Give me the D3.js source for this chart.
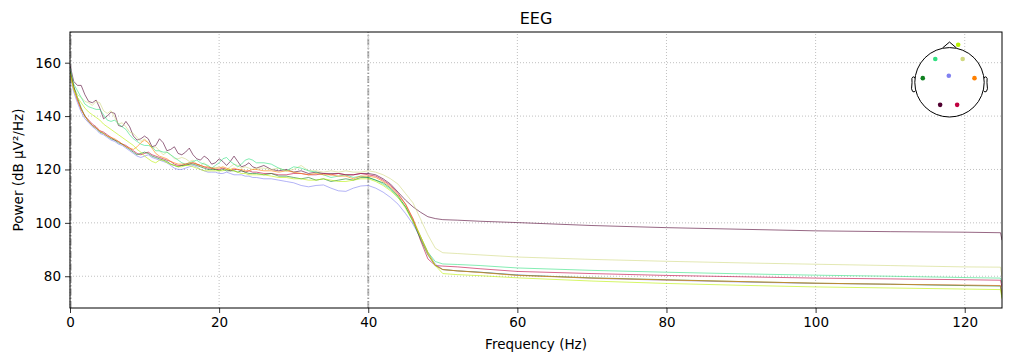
<!DOCTYPE html>
<html>
  <head>
    <meta charset="utf-8">
    <script src="https://d3js.org/d3.v7.min.js"></script>
    <style>
      body { margin: 0; background: #fff; }
      svg { font-family: 'DejaVu Sans', sans-serif; }
    </style>
    <title>EEG PSD</title>
  </head>
  <body>
    <svg></svg>

    <script type="text/javascript">
      // frequency grid (Hz): 0.5 Hz steps to 25, 1 Hz to 50, then sparse
      const freqs = [
        0, 0.5, 1, 1.5, 2, 2.5, 3, 3.5, 4, 4.5,
        5, 5.5, 6, 6.5, 7, 7.5, 8, 8.5, 9, 9.5,
        10, 10.5, 11, 11.5, 12, 12.5, 13, 13.5, 14, 14.5,
        15, 15.5, 16, 16.5, 17, 17.5, 18, 18.5, 19, 19.5,
        20, 20.5, 21, 21.5, 22, 22.5, 23, 23.5, 24, 24.5,
        25,
        26, 27, 28, 29, 30, 31, 32, 33, 34, 35, 36, 37, 38, 39, 40,
        41, 42, 43, 44, 45, 46, 47, 48, 49, 50,
        52, 55, 60, 70, 80, 90, 100, 110, 120, 124.8, 125
      ]

      // PSD per channel, dB µV²/Hz
      const psdMaroon = [
        159, 153, 151.5, 151.5, 148, 145.5, 145, 146, 143, 139,
        140, 141.5, 141, 136.5, 136, 138, 136, 132.5, 131, 131.5,
        132.5, 131.5, 128.5, 129, 131.5, 130, 127, 127.5, 128.5, 126,
        125.5, 126.5, 128, 125.5, 124, 123.5, 125, 124, 122, 122.5,
        124, 123, 121.5, 123, 125, 123, 121, 121.5, 122.5, 121,
        120.5,
        121.5, 120, 119.5, 120, 119, 119.5, 118.5, 119, 118.5, 118.5,
        118.5, 118, 118, 118.5, 118.5, 118, 116.5, 114.5, 111.5, 108.5,
        106, 104, 102.3, 101.6, 101.2,
        101, 100.6, 100.1, 99, 98.2, 97.6, 97, 96.7, 96.5, 96.3, 93.5
      ]
      const psdKhaki = [
        157, 151, 148, 147, 145.5, 145, 144, 145.5, 145, 142,
        141, 142, 139.5, 137, 137.5, 136, 134, 133.5, 132, 130.5,
        131.5, 130, 128, 128.5, 127, 125.5, 126.5, 125.5, 124, 124,
        124.5, 124, 123, 123.5, 122, 121.5, 122.5, 121, 120.5, 120.5,
        121, 120.5, 120, 121, 122, 121.5, 120.5, 121, 120.5, 120,
        120.5,
        120.5, 120, 120.5, 119.5, 120, 121.5, 119.5, 119.5, 119, 119.5,
        119, 119.5, 119, 119, 119.5, 119, 118, 116.5, 114.5, 111,
        107.5, 101.5, 95.5, 90.5, 88.8,
        88.5, 88, 87.2, 86.3, 85.6, 85, 84.5, 84, 83.5, 83.4, 80
      ]
      const psdTeal = [
        158, 152, 149.5, 147, 144.5, 143.5, 143, 142.5, 142.5, 140.5,
        138.5, 138, 138.5, 137, 136, 135, 133, 131.5, 130.5, 129.5,
        129, 129, 128.5, 127, 127, 126.5, 126.5, 125.5, 124.5, 123.5,
        122.5, 122, 122.5, 123, 123.5, 122.5, 122, 121.5, 120.5, 121.5,
        122.5, 124, 124.5, 123, 122, 121, 122, 123.5, 124, 123.5,
        122.5,
        122.5, 122, 120.5, 119.5, 121, 120.5, 119.5, 119, 118, 117,
        117.5, 118, 117, 117.5, 117, 116, 114.5, 112.5, 109.5, 106,
        101, 95, 89, 85.5, 84.6,
        84.4, 84, 83.1, 82.2, 81.5, 80.9, 80.4, 80, 79.5, 79.3, 77.5
      ]
      const psdCrimson = [
        157, 151, 146, 142.5, 140, 138.5, 137, 136, 134.5, 134,
        133, 132, 131, 130.5, 129.5, 129, 128, 127, 126, 125.5,
        126, 126.5, 125.5, 125, 124.5, 124, 123.5, 123, 122, 121.5,
        121.5, 122, 122, 122.5, 122, 121.5, 121, 120.5, 120.5, 120,
        120, 120.5, 120, 119.5, 120, 120, 119.5, 119, 119.5, 119,
        119,
        118.5, 118.5, 118, 118, 118.5, 118.5, 118, 118, 118.5, 118,
        118.5, 118, 118, 118.5, 118, 117.5, 116, 114, 111, 107,
        101.5, 93.5, 86.5, 84, 83.8,
        83.5, 82.8, 81.8, 81, 80.3, 79.8, 79.3, 79, 78.7, 78.5, 76
      ]
      const psdBlue = [
        155, 149, 145, 141.5, 139, 137.5, 136, 135, 133.5, 133,
        132, 131, 130.5, 129.5, 129, 128, 127, 126, 125, 124.5,
        125, 125.5, 124.5, 124, 123.5, 123, 122.5, 121.5, 120.5, 120,
        120, 120.5, 121, 121.5, 121, 120, 119.5, 119, 119, 119,
        118.5, 118.5, 119, 118.5, 118, 118, 118, 117.5, 117.5, 117,
        117,
        116.5, 116.5, 116, 115.5, 115, 114, 113.5, 114, 114.2, 113,
        112, 111.8, 113, 113.8, 114, 113, 111.5, 109.5, 107, 103.5,
        99.5, 94.5, 89, 84.5, 82.5,
        82, 81.5, 80.5, 79.2, 78.5, 77.8, 77.3, 77, 76.6, 76.5, 73
      ]
      const psdDarkGreen = [
        157, 151, 147, 143, 140, 138, 136.5, 135.5, 134, 133.5,
        132.5, 131.5, 131, 130, 129.5, 128.5, 127.5, 126.5, 125.5, 126,
        126.5, 126, 125, 124.5, 124, 123.5, 123, 122, 121.5, 121,
        121.5, 121.5, 122, 122, 121.5, 121, 120.5, 120, 120, 120,
        119.5, 120, 119.5, 119.5, 119.5, 119, 119.5, 119, 118.5, 118.5,
        118.5,
        118, 118.5, 117.5, 117.5, 117, 116.5, 117, 116, 116.5, 115.5,
        116, 116.5, 116, 117, 117, 116, 115, 113, 110, 106,
        100.5, 94, 88, 84, 82.5,
        82, 81.5, 80.4, 79.4, 78.7, 78, 77.4, 77, 76.5, 76.3, 72
      ]
      const psdOrange = [
        156, 150, 146, 142.5, 140, 138, 136.5, 135.5, 134.5, 133.5,
        132.5, 132, 131.5, 130.5, 129.5, 128.5, 128, 127.5, 128.5, 130,
        131, 130, 128, 126, 125, 124.5, 124, 123, 122.5, 122,
        122, 122, 122.5, 122.5, 122, 121.5, 121, 121, 120.5, 120.5,
        120.5, 121, 120.5, 120, 120.5, 120, 120, 119.5, 119.5, 120,
        120,
        119.5, 119.5, 119, 119.5, 119, 118.5, 118, 118.5, 118, 118,
        117.5, 117.5, 116.5, 117.5, 117.5, 117, 115.5, 113.5, 110.5, 107,
        101.5, 95, 88.5, 84, 82.5,
        82, 81.4, 80.3, 79.3, 78.6, 78, 77.4, 77, 76.7, 76.5, 73
      ]
      const psdYellowGreen = [
        156, 150, 147, 145, 143, 141.5, 140.5, 139.5, 138.5, 137,
        136, 135, 134, 133, 132, 131, 130, 129, 127.5, 126.5,
        125, 124, 123, 122.5, 123.5, 123.5, 122.5, 122, 121.5, 121,
        121, 121.5, 121.5, 121, 120.5, 120, 119.5, 119.5, 119.5, 119.5,
        119.5, 119.5, 120, 120, 119.5, 119, 118.5, 118.5, 118, 118,
        118,
        118, 117.5, 117, 117, 116.5, 116.5, 116, 116, 116.5, 116,
        115.5, 115.5, 116, 116.5, 116.5, 115.5, 114, 112, 109.5, 105.5,
        100.5, 95, 89, 84, 81,
        80.6, 80.2, 79.4, 78.2, 77.3, 76.6, 76, 75.6, 75.2, 75, 71.5
      ]

      // sensor colours and 2D positions (head radius = 1, y up)
      const channelColors = ['#500030', '#d0d880', '#30e080', '#c00040',
                             '#8080f0', '#108020', '#ff8000', '#b8f000']
      const sensorX = [-0.27, 0.38, -0.41, 0.22, -0.02, -0.77, 0.72, 0.25]
      const sensorY = [-0.65, 0.67, 0.67, -0.65, 0.19, 0.12, 0.12, 1.08]

      const xTicks = [0, 20, 40, 60, 80, 100, 120]
      const yTicks = [80, 100, 120, 140, 160]
      const filterFreqs = [0.1, 40]

      const channels = [psdMaroon, psdKhaki, psdTeal, psdCrimson,
                        psdBlue, psdDarkGreen, psdOrange, psdYellowGreen]

      const width = 1011
      const height = 361
      const margin = {top: 32, right: 9, bottom: 53, left: 70}
      const font = 13.5

      const svg =
        d3.select('svg')
          .attr('width', width)
          .attr('height', height)

      const x =
        d3.scaleLinear()
          .domain([0, 125])
          .range([margin.left, width - margin.right])

      const y =
        d3.scaleLinear()
          .domain([68.1, 171.5])
          .range([height - margin.bottom, margin.top])

      svg.append('defs')
        .append('clipPath')
          .attr('id', 'plot-clip')
        .append('rect')
          .attr('x', x(0))
          .attr('y', y(171.5))
          .attr('width', x(125) - x(0))
          .attr('height', y(68.1) - y(171.5))

      // grid
      svg.selectAll('.xgrid')
        .data(xTicks)
        .enter()
        .append('line')
          .attr('class', 'xgrid')
          .attr('x1', d => x(d))
          .attr('x2', d => x(d))
          .attr('y1', y.range()[0])
          .attr('y2', y.range()[1])
          .attr('stroke', '#b0b0b0')
          .attr('stroke-width', 0.8)
          .attr('stroke-dasharray', '1,2')

      svg.selectAll('.ygrid')
        .data(yTicks)
        .enter()
        .append('line')
          .attr('class', 'ygrid')
          .attr('x1', x.range()[0])
          .attr('x2', x.range()[1])
          .attr('y1', d => y(d))
          .attr('y2', d => y(d))
          .attr('stroke', '#b0b0b0')
          .attr('stroke-width', 0.8)
          .attr('stroke-dasharray', '1,2')

      // filter edges
      svg.selectAll('.filter_line')
        .data(filterFreqs)
        .enter()
        .append('line')
          .attr('class', 'filter_line')
          .attr('x1', d => x(d))
          .attr('x2', d => x(d))
          .attr('y1', y.range()[0])
          .attr('y2', y.range()[1])
          .attr('stroke', '#000')
          .attr('stroke-opacity', 0.28)
          .attr('stroke-width', 2)
          .attr('stroke-dasharray', '7,2,1.5,2')

      const line =
        d3.line()
          .x((d, i) => x(freqs[i]))
          .y(d => y(d))

      svg.append('g')
          .attr('clip-path', 'url(#plot-clip)')
        .selectAll('.psd')
        .data(channels)
        .enter()
        .append('path')
          .attr('class', 'psd')
          .attr('d', line)
          .attr('fill', 'none')
          .attr('stroke', (d, i) => channelColors[i])
          .attr('stroke-width', 0.6)

      // axes
      const xAxis =
        svg.append('g')
          .attr('transform', `translate(0,${y.range()[0]})`)
          .call(
            d3.axisBottom(x)
              .tickValues(xTicks)
              .tickSize(5)
              .tickPadding(4)
              .tickSizeOuter(0)
          )

      const yAxis =
        svg.append('g')
          .attr('transform', `translate(${x.range()[0]},0)`)
          .call(
            d3.axisLeft(y)
              .tickValues(yTicks)
              .tickSize(5)
              .tickPadding(4)
              .tickSizeOuter(0)
          )

      for (const g of [xAxis, yAxis]) {
        g.select('.domain').remove()
        g.selectAll('line').attr('stroke', '#000').attr('stroke-width', 0.8)
        g.selectAll('text')
          .attr('fill', '#000')
          .style('font-size', font + 'px')
          .style('font-family', "'DejaVu Sans', sans-serif")
      }

      svg.append('rect')
          .attr('x', x.range()[0])
          .attr('y', y.range()[1])
          .attr('width', x.range()[1] - x.range()[0])
          .attr('height', y.range()[0] - y.range()[1])
          .attr('fill', 'none')
          .attr('stroke', '#000')
          .attr('stroke-width', 1)

      // labels
      svg.append('text')
          .attr('x', (x.range()[0] + x.range()[1]) / 2)
          .attr('y', 24)
          .attr('text-anchor', 'middle')
          .style('font-size', '16px')
          .text('EEG')

      svg.append('text')
          .attr('x', (x.range()[0] + x.range()[1]) / 2)
          .attr('y', 349)
          .attr('text-anchor', 'middle')
          .style('font-size', font + 'px')
          .text('Frequency (Hz)')

      svg.append('text')
          .attr('transform', `translate(23,${(y.range()[0] + y.range()[1]) / 2}) rotate(-90)`)
          .attr('text-anchor', 'middle')
          .style('font-size', font + 'px')
          .text('Power (dB µV²/Hz)')

      // sensor inset
      const headCx = 949.5
      const headCy = 82.3
      const headR = 34.7

      const hx = d3.scaleLinear().domain([-1, 1]).range([headCx - headR, headCx + headR])
      const hy = d3.scaleLinear().domain([-1, 1]).range([headCy + headR, headCy - headR])

      const inset = svg.append('g')

      const earX = [0.994, 1.02, 1.036, 1.06, 1.084, 1.08, 1.094, 1.064, 1.02, 0.978]
      const earY = [0.111, 0.155, 0.157, 0.149, 0.111, -0.011, -0.186, -0.263, -0.277, -0.24]
      const earLine = d3.line().x(d => hx(d[0])).y(d => hy(d[1]))

      for (const side of [-1, 1]) {
        inset.append('path')
          .attr('d', earLine(earX.map((v, i) => [side * v, earY[i]])))
          .attr('fill', 'none')
          .attr('stroke', '#000')
          .attr('stroke-width', 1)
      }

      inset.append('path')
          .attr('d', earLine([[-0.2, 0.99], [0, 1.16], [0.2, 0.99]]))
          .attr('fill', 'none')
          .attr('stroke', '#000')
          .attr('stroke-width', 1)

      inset.append('circle')
          .attr('cx', hx(0))
          .attr('cy', hy(0))
          .attr('r', headR)
          .attr('fill', '#fff')
          .attr('stroke', '#000')
          .attr('stroke-width', 1)

      inset.selectAll('.sensor')
        .data(channelColors)
        .enter()
        .append('circle')
          .attr('class', 'sensor')
          .attr('cx', (d, i) => hx(sensorX[i]))
          .attr('cy', (d, i) => hy(sensorY[i]))
          .attr('r', 2.3)
          .attr('fill', d => d)
    </script>
  </body>
</html>
